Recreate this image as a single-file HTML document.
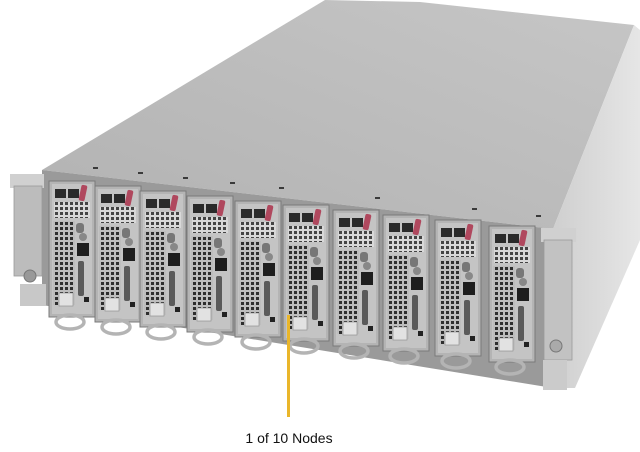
<!DOCTYPE html>
<html><head><meta charset="utf-8"><style>
html,body{margin:0;padding:0;background:#fff;width:640px;height:452px;overflow:hidden}
svg{display:block}
</style></head><body>
<svg width="640" height="452" viewBox="0 0 640 452" xmlns="http://www.w3.org/2000/svg">
<defs>
<linearGradient id="top" x1="0" y1="1" x2="1" y2="0">
<stop offset="0" stop-color="#b2b2b2"/><stop offset="1" stop-color="#c6c6c6"/></linearGradient>
<linearGradient id="side" x1="0" y1="0" x2="1" y2="0">
<stop offset="0" stop-color="#cfcfcf"/><stop offset="1" stop-color="#e6e6e6"/></linearGradient>
<pattern id="grid" width="5" height="5" patternUnits="userSpaceOnUse">
<rect width="5" height="5" fill="#bdbdbd"/><rect x="1" y="1" width="3" height="3" fill="#2e2e2e"/></pattern>
<pattern id="grid2" width="5" height="5" patternUnits="userSpaceOnUse">
<rect width="5" height="5" fill="#d8d8d8"/><rect x="1" y="1" width="3" height="3" fill="#444"/></pattern>
<g id="node">
<rect x="0" y="0" width="46" height="136" fill="#b4b4b4" stroke="#7a7a7a" stroke-width="1"/>
<rect x="3" y="3" width="40" height="130" fill="#c4c4c4"/>
<rect x="6" y="8" width="11" height="9" fill="#2a2a2a"/>
<rect x="19" y="8" width="11" height="9" fill="#2a2a2a"/>
<rect x="31" y="4" width="6" height="16" rx="2" fill="#b0485e" transform="rotate(12 34 12)"/>
<rect x="5" y="21" width="36" height="16" fill="url(#grid2)"/>
<rect x="4" y="40" width="22" height="84" fill="url(#grid)"/>
<rect x="27" y="42" width="8" height="10" rx="3" fill="#777"/>
<circle cx="34" cy="56" r="4" fill="#888"/>
<rect x="28" y="62" width="12" height="13" fill="#1e1e1e"/>
<rect x="29" y="80" width="6" height="35" rx="2" fill="#5a5a5a"/>
<rect x="10" y="112" width="14" height="13" fill="#e2e2e2" stroke="#888" stroke-width="0.6"/>
<rect x="35" y="116" width="5" height="5" fill="#222"/>
<ellipse cx="21" cy="141" rx="14" ry="7" fill="none" stroke="#b4b4b4" stroke-width="3.5"/>
</g>
</defs>
<polygon points="42,170 325,0 420,2 634,25 553,229" fill="url(#top)"/>
<polygon points="553,229 634,25 640,30 640,240 575,388 560,388" fill="url(#side)"/>
<polygon points="42,170 553,229 553,388 42,305" fill="#9a9a9a"/>
<g fill="#3a3a3a">
<rect x="93" y="167" width="5" height="2"/><rect x="138" y="172" width="5" height="2"/>
<rect x="183" y="177" width="5" height="2"/><rect x="230" y="182" width="5" height="2"/>
<rect x="279" y="187" width="5" height="2"/><rect x="375" y="197" width="5" height="2"/>
<rect x="472" y="208" width="5" height="2"/><rect x="536" y="215" width="5" height="2"/>
</g>
<use href="#node" transform="translate(49,181)"/>
<use href="#node" transform="translate(95,186)"/>
<use href="#node" transform="translate(140,191)"/>
<use href="#node" transform="translate(187,196)"/>
<use href="#node" transform="translate(235,201)"/>
<use href="#node" transform="translate(283,205)"/>
<use href="#node" transform="translate(333,210)"/>
<use href="#node" transform="translate(383,215)"/>
<use href="#node" transform="translate(435,220)"/>
<use href="#node" transform="translate(489,226)"/>
<rect x="10" y="174" width="34" height="14" fill="#d0d0d0"/>
<rect x="14" y="186" width="28" height="90" fill="#bcbcbc" stroke="#999" stroke-width="0.8"/>
<circle cx="30" cy="276" r="6" fill="#999" stroke="#777"/>
<rect x="20" y="284" width="26" height="22" fill="#c8c8c8"/>
<rect x="541" y="228" width="35" height="14" fill="#d0d0d0"/>
<rect x="544" y="240" width="28" height="120" fill="#c2c2c2" stroke="#999" stroke-width="0.8"/>
<circle cx="556" cy="346" r="6" fill="#aaa" stroke="#777"/>
<rect x="543" y="360" width="24" height="30" fill="#cbcbcb"/>
<rect x="287" y="315" width="3" height="102" fill="#eab62a"/>
<text x="289" y="443" text-anchor="middle" font-family="Liberation Sans, sans-serif" font-size="14" fill="#111">1 of 10 Nodes</text>
</svg>
</body></html>
